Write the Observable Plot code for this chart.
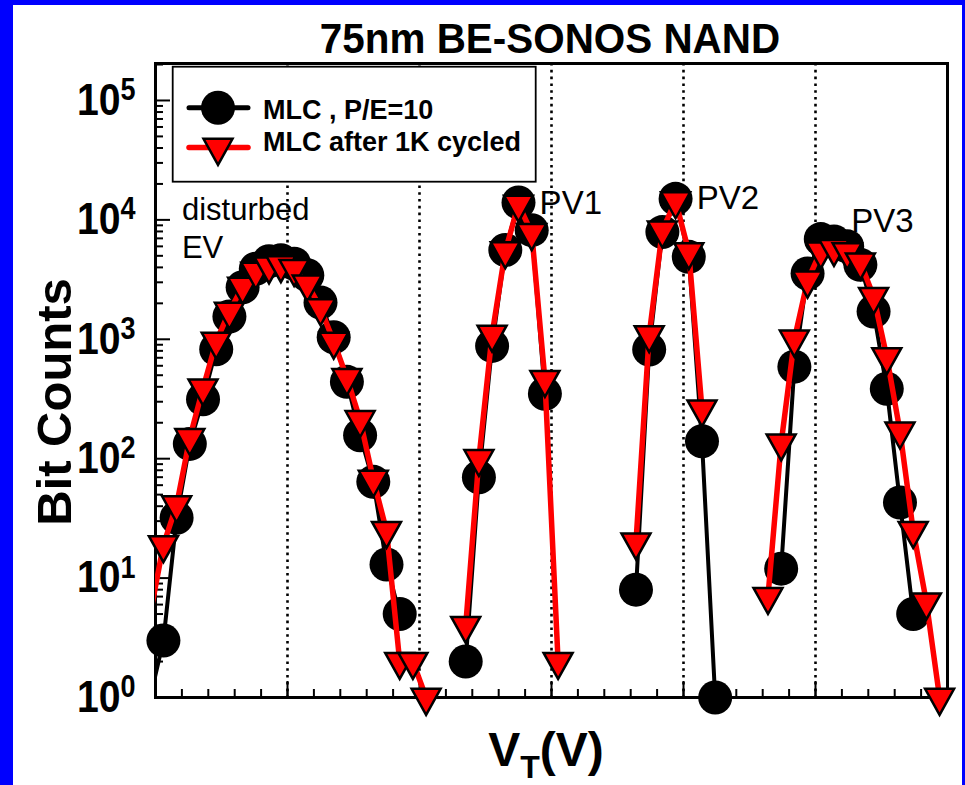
<!DOCTYPE html>
<html>
<head>
<meta charset="utf-8">
<script src="https://cdn.jsdelivr.net/npm/d3@7"></script>
<script src="https://cdn.jsdelivr.net/npm/@observablehq/plot@0.6"></script>
<style>
  html, body { margin: 0; padding: 0; }
  body { width: 965px; height: 785px; overflow: hidden; background: #0000fe; position: relative;
         font-family: "Liberation Sans", Arial, sans-serif; }
  #page { position: absolute; left: 13px; top: 5px; width: 949px; height: 780px; background: #fff; }
  #chart { position: absolute; left: 0; top: 0; }
  #overlay { position: absolute; left: 0; top: 0; pointer-events: none; }
</style>
</head>
<body>
<div id="page"><div id="chart"></div></div>
<svg id="overlay" width="965" height="785"></svg>
<script>
// Threshold-voltage distributions of a 75nm BE-SONOS NAND array (MLC),
// bit counts per 0.1 V bin, grouped by state (erased / PV1 / PV2 / PV3).
const FONT = '"Liberation Sans", Arial, sans-serif';

// Erased state (disturbed EV)
const vtEV = [-2.04, -1.94, -1.84, -1.74, -1.64, -1.54, -1.44, -1.34, -1.24, -1.14, -1.05,
              -0.95, -0.85, -0.75, -0.65, -0.55, -0.45, -0.35, -0.25, -0.15, -0.05, 0.05];
const freshEV = [1, 3, 32, 133, 315, 826, 1550, 2730, 3900, 4500, 4600,
                 4300, 3440, 2030, 1040, 440, 157, 64, 13, 5, null, null];
const cycledEV = [5, 19, 41, 150, 390, 960, 1710, 2770, 3700, 4100, 4200,
                  3900, 2900, 1830, 960, 476, 212, 67, 25, 2, 2, 1];

// PV1 state
const vtPV1 = [0.35, 0.45, 0.55, 0.65, 0.75, 0.85, 0.95, 1.05];
const freshPV1 = [2, 70, 880, 5600, 14000, 8200, 350, null];
const cycledPV1 = [4, 100, 1100, 5500, 13500, 7800, 460, 2];

// PV2 state
const vtPV2 = [1.64, 1.74, 1.84, 1.94, 2.04, 2.14, 2.24];
const freshPV2 = [8, 820, 7900, 15000, 4900, 140, 1];
const cycledPV2 = [20, 1090, 8200, 14400, 5400, 260, null];

// PV3 state
const vtPV3 = [2.64, 2.74, 2.84, 2.94, 3.04, 3.14, 3.24, 3.34, 3.44, 3.54, 3.64, 3.74, 3.84, 3.94];
const freshPV3 = [null, 12, 590, 3560, 6900, 6600, 6000, 4200, 1710, 385, 43, 5, null, null];
const cycledPV3 = [7, 135, 1000, 3120, 5480, 5740, 5400, 4430, 2280, 713, 170, 25, 6.3, 1];

// Axis settings
const vtDomain = [-2, 4];
const vtMajor = [-2, -1, 0, 1, 2, 3, 4];
const vtVerify = [-1, 0, 1, 2, 3];
const countDomain = [1, 2.04e5];
const countMajor = [1, 10, 100, 1e3, 1e4, 1e5];

// In-plot annotations
const noteText = ["disturbed", "EV", "PV1", "PV2", "PV3"];
const noteVt = [-1.80, -1.80, 0.91, 2.10, 3.27];
const noteCount = [9960, 4800, 11200, 12400, 7900];
const noteSize = [31, 31, 33, 33, 33];

const seriesNames = ["MLC , P/E=10", "MLC after 1K cycled"];

// Build tidy rows
const fresh = [], cycled = [];
function addGroup(group, vt, a, b) {
  vt.forEach((v, i) => {
    if (a[i] != null) fresh.push({group, vt: v, n: a[i]});
    if (b[i] != null) cycled.push({group, vt: v, n: b[i]});
  });
}
addGroup("EV", vtEV, freshEV, cycledEV);
addGroup("PV1", vtPV1, freshPV1, cycledPV1);
addGroup("PV2", vtPV2, freshPV2, cycledPV2);
addGroup("PV3", vtPV3, freshPV3, cycledPV3);
const inside = d => d.vt >= vtDomain[0] && d.vt <= vtDomain[1];

const notes = noteText.map((t, i) => ({t, vt: noteVt[i], n: noteCount[i], s: noteSize[i]}));

const minorVt = d3.range(0, 31).map(i => vtDomain[0] + i * 0.2);
const minorCount = [];
for (let e = 0; e <= 5; e++) for (let m = 2; m <= 9; m++) {
  const v = m * Math.pow(10, e);
  if (v <= countDomain[1]) minorCount.push(v);
}

// Downward triangle centred on its centroid
const triangleDown = {
  draw(context) {
    const w = 14.5, h = 26;
    context.moveTo(-w, -h / 3);
    context.lineTo(w, -h / 3);
    context.lineTo(0, 2 * h / 3);
    context.closePath();
  }
};

const chart = Plot.plot({
  width: 949,
  height: 780,
  marginLeft: 142,
  marginRight: 15,
  marginTop: 58,
  marginBottom: 88,
  style: {background: "transparent", fontFamily: FONT, overflow: "visible"},
  x: {domain: vtDomain},
  y: {type: "log", domain: countDomain},
  marks: [
    Plot.ruleX(vtVerify, {stroke: "black", strokeWidth: 2.6, strokeDasharray: "2.6 4.2"}),
    Plot.frame({stroke: "black", strokeWidth: 3}),
    Plot.axisX({ticks: vtMajor, tickSize: -16, strokeWidth: 2, tickFormat: () => "", label: null}),
    Plot.axisX({ticks: minorVt, tickSize: -8, strokeWidth: 2, tickFormat: () => "", label: null}),
    Plot.axisY({ticks: minorCount, tickSize: -8, strokeWidth: 2, tickFormat: () => "", label: null}),
    Plot.axisY({ticks: countMajor, tickSize: -15, tickPadding: 35, strokeWidth: 2,
                tickFormat: d => String(Math.round(Math.log10(d))),
                fontSize: 45, fontWeight: "bold", fill: "black", label: null}),
    Plot.text(notes, {x: "vt", y: "n", text: "t", fontSize: "s", textAnchor: "start",
                      lineAnchor: "bottom", fill: "black", fontFamily: FONT}),
    Plot.line(fresh, {x: "vt", y: "n", z: "group", stroke: "black", strokeWidth: 4,
                      strokeLinejoin: "round", strokeLinecap: "round", clip: true}),
    Plot.dot(fresh.filter(inside), {x: "vt", y: "n", r: 17, fill: "black", stroke: null}),
    Plot.line(cycled, {x: "vt", y: "n", z: "group", stroke: "#ff0000", strokeWidth: 5.5,
                       strokeLinejoin: "round", strokeLinecap: "round", clip: true}),
    Plot.dot(cycled.filter(inside), {x: "vt", y: "n", symbol: triangleDown, r: 10,
                                     fill: "#ff0000", stroke: "black", strokeWidth: 2.5})
  ]
});
document.getElementById("chart").appendChild(chart);

// Decade labels as 10 with a raised exponent, slightly condensed
d3.select(chart).selectAll('g[aria-label="y-axis tick label"] text').each(function () {
  const sel = d3.select(this);
  const exp = sel.text();
  if (!exp) return;
  sel.text("");
  sel.append("tspan").text("10");
  sel.append("tspan").attr("dy", -15).attr("font-size", 31).text(exp);
  const t = sel.attr("transform") || "";
  sel.attr("transform", t + " scale(0.87,1)");
});

// Title, axis titles and legend
const ov = d3.select("#overlay");
ov.append("text")
  .attr("transform", "translate(550,53) scale(0.94,1)")
  .attr("text-anchor", "middle")
  .attr("font-family", FONT).attr("font-weight", "bold").attr("font-size", 43)
  .text("75nm BE-SONOS NAND");

ov.append("text")
  .attr("transform", "translate(71,402) rotate(-90)")
  .attr("text-anchor", "middle")
  .attr("font-family", FONT).attr("font-weight", "bold").attr("font-size", 49)
  .text("Bit Counts");

const xl = ov.append("text")
  .attr("x", 546).attr("y", 766)
  .attr("text-anchor", "middle")
  .attr("font-family", FONT).attr("font-weight", "bold").attr("font-size", 48);
xl.append("tspan").text("V");
xl.append("tspan").attr("font-size", 32).attr("dy", 12).text("T");
xl.append("tspan").attr("dy", -12).text("(V)");

const lg = ov.append("g");
lg.append("rect").attr("x", 172.7).attr("y", 66.7).attr("width", 363).attr("height", 115)
  .attr("fill", "white").attr("stroke", "black").attr("stroke-width", 1.8);
lg.append("line").attr("x1", 189).attr("x2", 248).attr("y1", 107.7).attr("y2", 107.7)
  .attr("stroke", "black").attr("stroke-width", 5).attr("stroke-linecap", "round");
lg.append("circle").attr("cx", 218).attr("cy", 107.7).attr("r", 17).attr("fill", "black");
lg.append("line").attr("x1", 189).attr("x2", 248).attr("y1", 147.5).attr("y2", 147.5)
  .attr("stroke", "#ff0000").attr("stroke-width", 5.5).attr("stroke-linecap", "round");
lg.append("path").attr("transform", "translate(218,147.5)")
  .attr("d", d3.symbol(triangleDown)())
  .attr("fill", "#ff0000").attr("stroke", "black").attr("stroke-width", 2.5);
lg.selectAll("text.lab").data(seriesNames).join("text")
  .attr("class", "lab")
  .attr("x", 263).attr("y", (d, i) => i ? 150.7 : 119.3)
  .attr("font-family", FONT).attr("font-weight", "bold").attr("font-size", 27)
  .text(d => d);
</script>
</body>
</html>
